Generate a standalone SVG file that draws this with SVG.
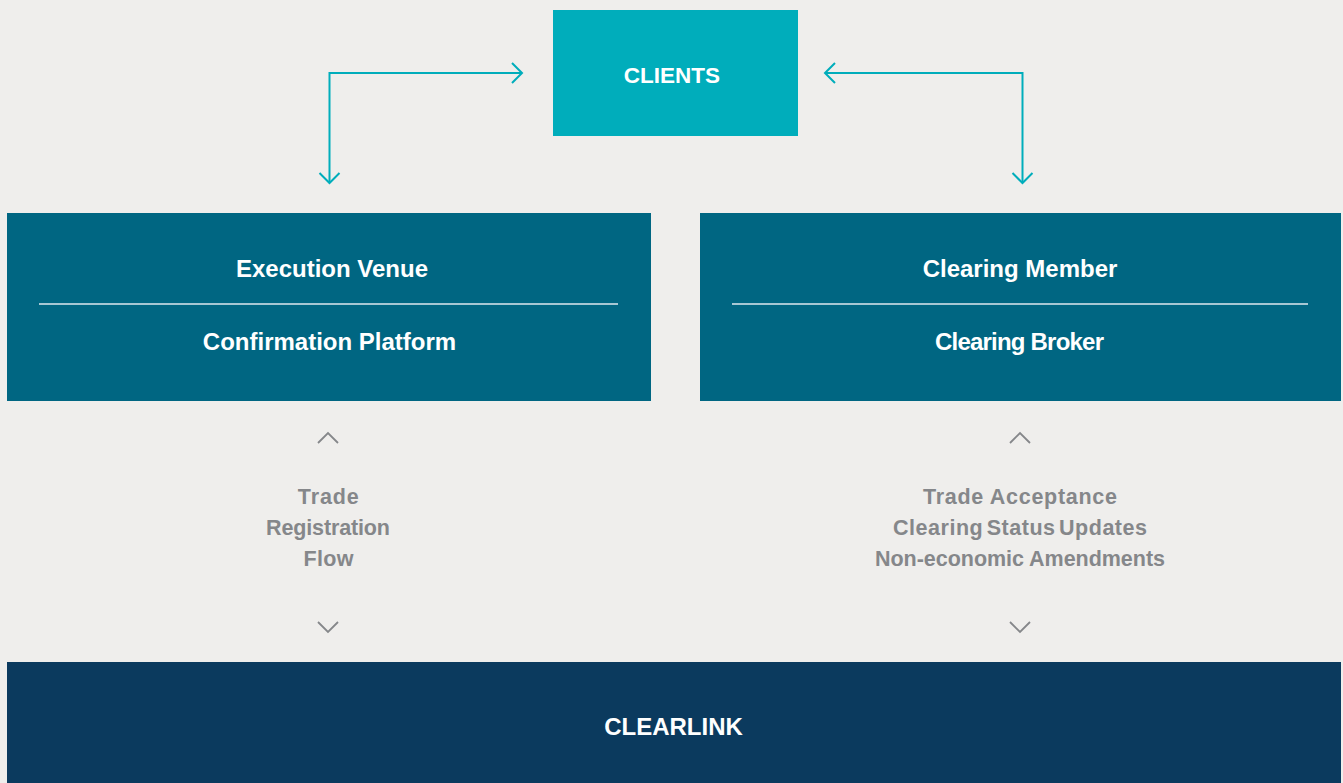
<svg xmlns="http://www.w3.org/2000/svg" width="1343" height="783" viewBox="0 0 1343 783">
<defs>
<style>
.bg{fill:#efeeec}
.t{font-family:"Liberation Sans",Arial,sans-serif;font-weight:bold;text-anchor:middle}
.w{fill:#ffffff}
.g{fill:#85878a;font-size:21.5px}
.conn{fill:none;stroke:#00adbb;stroke-width:2}
.chev{fill:none;stroke:#85878a;stroke-width:1.8}
.div{stroke:#dfe9ee;stroke-width:1.5}
</style>
</defs>
<rect class="bg" x="0" y="0" width="1343" height="783"/>
<g id="connectors">
<path class="conn" d="M521,73 H329.5 V183"/>
<path class="conn" d="M512,63 L522,73 L512,83"/>
<path class="conn" d="M319.5,173 L329.5,183 L339.5,173"/>
<path class="conn" d="M825,73 H1022.5 V183"/>
<path class="conn" d="M835,63 L825,73 L835,83"/>
<path class="conn" d="M1012.5,173 L1022.5,183 L1032.5,173"/>
<path class="chev" d="M318,443 L328,433 L338,443"/>
<path class="chev" d="M318,622 L328,632 L338,622"/>
<path class="chev" d="M1010,443 L1020,433 L1030,443"/>
<path class="chev" d="M1010,622 L1020,632 L1030,622"/>
</g>
<g id="clients">
<rect x="553" y="10" width="245" height="126" fill="#00adbb"/>
<text class="t w" x="672" y="83" font-size="22.5">CLIENTS</text>
</g>
<g id="execution-venue">
<rect x="7" y="213" width="644" height="188" fill="#006682"/>
<text class="t w" x="332" y="277" font-size="24">Execution Venue</text>
<line class="div" x1="39" y1="304" x2="618" y2="304"/>
<text class="t w" x="329.5" y="350" font-size="24">Confirmation Platform</text>
</g>
<g id="clearing-member">
<rect x="700" y="213" width="641" height="188" fill="#006682"/>
<text class="t w" x="1020" y="277" font-size="24">Clearing Member</text>
<line class="div" x1="732" y1="304" x2="1308" y2="304"/>
<text class="t w" x="1019.5" y="350" font-size="24" textLength="169">Clearing Broker</text>
</g>
<g id="trade-registration-flow">
<text class="t g" x="328.3" y="503.5" textLength="61">Trade</text>
<text class="t g" x="328" y="534.5" textLength="124">Registration</text>
<text class="t g" x="328.5" y="565.5" textLength="50">Flow</text>
</g>
<g id="acceptance-labels">
<text class="t g" x="1020" y="503.5" textLength="194">Trade Acceptance</text>
<text class="t g" x="1020" y="534.5" word-spacing="-3" textLength="254">Clearing Status Updates</text>
<text class="t g" x="1020" y="565.5" textLength="290">Non-economic Amendments</text>
</g>
<g id="clearlink">
<rect x="7" y="662" width="1334" height="121" fill="#0b3a5e"/>
<text class="t w" x="673.5" y="735" font-size="24">CLEARLINK</text>
</g>
</svg>
